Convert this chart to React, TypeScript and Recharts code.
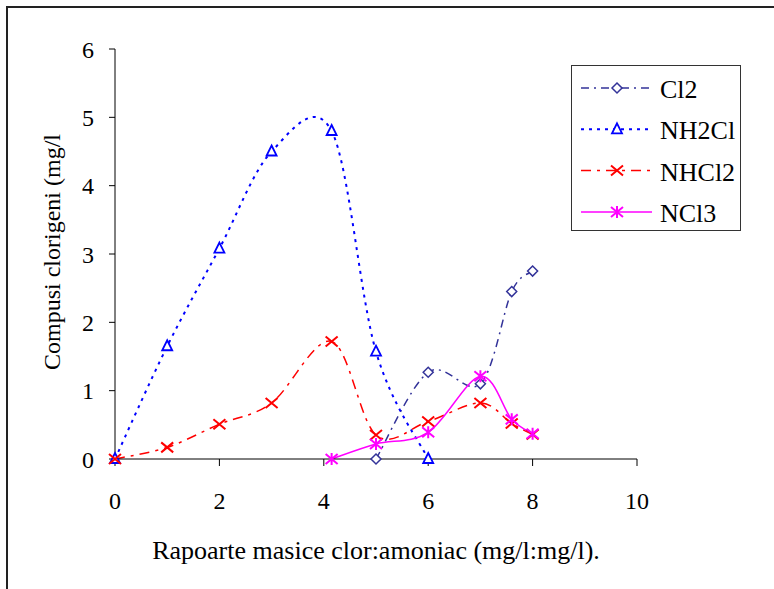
import { LineChart, Line, XAxis, YAxis } from "recharts"

// mass ratio chlorine:ammonia vs chlorine compounds (mg/l)
const cl2X = [5, 6, 7, 7.6, 8]
const cl2Y = [0, 1.27, 1.1, 2.45, 2.75]
const nh2clX = [0, 1, 2, 3, 4.15, 5, 6]
const nh2clY = [0, 1.65, 3.08, 4.5, 4.8, 1.57, 0]
const nhcl2X = [0, 1, 2, 3, 4.15, 5, 6, 7, 7.6, 8]
const nhcl2Y = [0, 0.17, 0.51, 0.82, 1.72, 0.35, 0.55, 0.82, 0.52, 0.36]
const ncl3X = [4.15, 5, 6, 7, 7.6, 8]
const ncl3Y = [0, 0.22, 0.39, 1.21, 0.58, 0.37]

const xTicks = [0, 2, 4, 6, 8, 10]
const yTicks = [0, 1, 2, 3, 4, 5, 6]

const FONT = "Liberation Serif"

const zip = (xs: number[], ys: number[]) => xs.map((x, i) => ({ x, y: ys[i] }))

// Excel-like smoothed line (uniform Catmull-Rom through the points)
function smoothCurve(context: any) {
  let pts: number[][] = []
  return {
    areaStart() {},
    areaEnd() {},
    lineStart() {
      pts = []
    },
    point(x: number, y: number) {
      pts.push([+x, +y])
    },
    lineEnd() {
      if (!pts.length) return
      context.moveTo(pts[0][0], pts[0][1])
      for (let i = 0; i < pts.length - 1; i++) {
        const p0 = pts[i - 1] || pts[i]
        const p1 = pts[i]
        const p2 = pts[i + 1]
        const p3 = pts[i + 2] || p2
        context.bezierCurveTo(
          p1[0] + (p2[0] - p0[0]) / 6,
          p1[1] + (p2[1] - p0[1]) / 6,
          p2[0] - (p3[0] - p1[0]) / 6,
          p2[1] - (p3[1] - p1[1]) / 6,
          p2[0],
          p2[1]
        )
      }
    },
  }
}

type Marker = (cx: number, cy: number, color: string) => any

const diamond: Marker = (cx, cy, c) => (
  <path d={`M${cx},${cy - 5}L${cx + 5},${cy}L${cx},${cy + 5}L${cx - 5},${cy}Z`} fill="#fff" stroke={c} strokeWidth={1.5} />
)
const triangle: Marker = (cx, cy, c) => (
  <path d={`M${cx},${cy - 6}L${cx + 5},${cy + 4}L${cx - 5},${cy + 4}Z`} fill="#fff" stroke={c} strokeWidth={1.8} />
)
const cross: Marker = (cx, cy, c) => (
  <path d={`M${cx - 6},${cy - 5}L${cx + 6},${cy + 5}M${cx - 6},${cy + 5}L${cx + 6},${cy - 5}`} stroke={c} strokeWidth={2} fill="none" />
)
const star: Marker = (cx, cy, c) => (
  <path
    d={`M${cx - 6},${cy - 5}L${cx + 6},${cy + 5}M${cx - 6},${cy + 5}L${cx + 6},${cy - 5}M${cx},${cy - 6}L${cx},${cy + 6}`}
    stroke={c}
    strokeWidth={2}
    fill="none"
  />
)

const SERIES = [
  { name: "Cl2", data: zip(cl2X, cl2Y), color: "#333399", dash: "8 5 2 5", marker: diamond, width: 1.5 },
  { name: "NH2Cl", data: zip(nh2clX, nh2clY), color: "#0000ff", dash: "3 5", marker: triangle, width: 2 },
  { name: "NHCl2", data: zip(nhcl2X, nhcl2Y), color: "#ff0000", dash: "10 6 3 6", marker: cross, width: 1.5 },
  { name: "NCl3", data: zip(ncl3X, ncl3Y), color: "#ff00ff", dash: undefined, marker: star, width: 1.5 },
]

function LegendBox() {
  return (
    <div style={{ position: "absolute", left: 571, top: 65, border: "1px solid #333", width: 168, height: 164, background: "#fff" }}>
      <svg width={168} height={164} style={{ display: "block" }}>
        {SERIES.map((s, i) => {
          const y = 22 + i * 41.3
          return (
            <g key={s.name}>
              <line x1={9} x2={80} y1={y} y2={y} stroke={s.color} strokeWidth={s.width} strokeDasharray={s.dash} />
              {s.marker(45, y, s.color)}
              <text x={88} y={y + 10} fontFamily={FONT} fontSize={26} fill="#000">
                {s.name}
              </text>
            </g>
          )
        })}
      </svg>
    </div>
  )
}

export default function App() {
  return (
    <div style={{ position: "absolute", left: 0, top: 0, width: 774, height: 589, background: "#fff", overflow: "hidden" }}>
      <div
        style={{
          position: "absolute",
          left: 6,
          top: 6,
          width: 774,
          height: 589,
          borderTop: "2px solid #222",
          borderLeft: "2px solid #222",
        }}
      />
      <LineChart width={774} height={589} margin={{ top: 49, right: 137, bottom: 0, left: 0 }} style={{ position: "absolute", left: 0, top: 0 }}>
        <XAxis
          type="number"
          dataKey="x"
          domain={[0, 10]}
          ticks={xTicks}
          interval={0}
          height={130}
          tickSize={7}
          tickMargin={26}
          stroke="#000"
          tick={{ fill: "#000", fontSize: 24, fontFamily: FONT }}
          label={{
            value: "Rapoarte masice clor:amoniac (mg/l:mg/l).",
            position: "insideBottom",
            offset: 30,
            fill: "#000",
            fontSize: 26,
            fontFamily: FONT,
          }}
        />
        <YAxis
          type="number"
          dataKey="y"
          domain={[0, 6]}
          ticks={yTicks}
          interval={0}
          width={115}
          tickSize={6}
          tickMargin={15}
          stroke="#000"
          tick={{ fill: "#000", fontSize: 24, fontFamily: FONT }}
          label={({ viewBox }: any) => {
            const cy = viewBox.y + viewBox.height / 2 - 2
            return (
              <text
                x={60}
                y={cy}
                transform={`rotate(-90, 60, ${cy})`}
                textAnchor="middle"
                fontSize={24}
                fontFamily={FONT}
                fill="#000"
              >
                Compusi clorigeni (mg/l
              </text>
            )
          }}
        />
        {SERIES.map((s) => (
          <Line
            key={s.name}
            data={s.data}
            dataKey="y"
            name={s.name}
            type={smoothCurve as any}
            stroke={s.color}
            strokeWidth={s.width}
            strokeDasharray={s.dash}
            isAnimationActive={false}
            dot={(p: any) => <g key={`${s.name}-${p.index}`}>{s.marker(p.cx, p.cy, s.color)}</g>}
            activeDot={false}
          />
        ))}
      </LineChart>
      <LegendBox />
    </div>
  )
}
